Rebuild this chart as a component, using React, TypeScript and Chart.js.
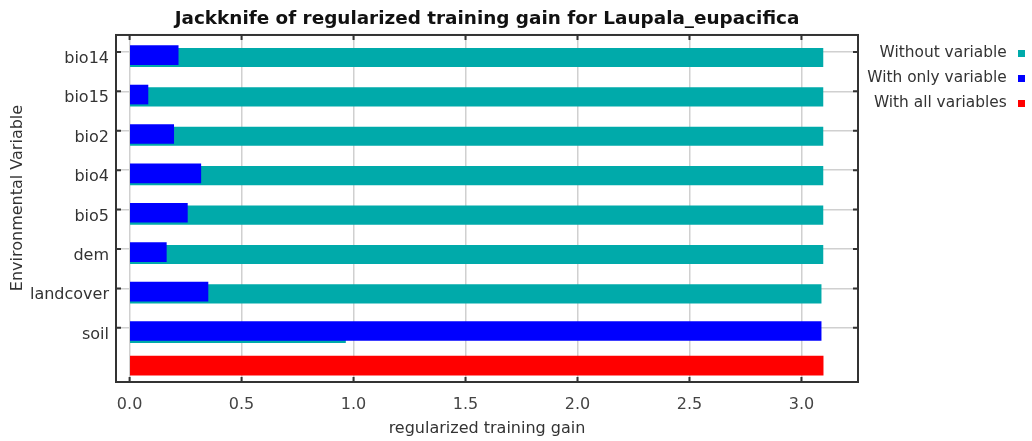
import React, { useEffect, useRef } from 'react';
import { Chart, registerables } from 'chart.js';

Chart.register(...registerables);

const variables = ['bio14', 'bio15', 'bio2', 'bio4', 'bio5', 'dem', 'landcover', 'soil'];
const withoutVariable = [3.096, 3.096, 3.096, 3.096, 3.096, 3.096, 3.088, 0.964];
const withOnlyVariable = [0.217, 0.082, 0.197, 0.318, 0.258, 0.164, 0.35, 3.088];
const withAllVariables = [3.097];
const xTicks = [0, 0.5, 1.0, 1.5, 2.0, 2.5, 3.0];
const seriesNames = ['Without variable', 'With only variable', 'With all variables'];
const seriesColors = ['#00AAAA', '#0000FF', '#FF0000'];

const titleText = 'Jackknife of regularized training gain for Laupala_eupacifica';
const xTitle = 'regularized training gain';
const yTitle = 'Environmental Variable';

const FONT = 'DejaVu Sans';

export default function App() {
  const ref = useRef<HTMLCanvasElement>(null);

  useEffect(() => {
    const Y_MIN = -0.431;
    const Y_MAX = 8.376;
    const TEAL_OFF = 0.14;
    const BLUE_OFF = 0.081;
    const ALL_POS = 7.96;

    const framePlugin = {
      id: 'frame',
      afterDatasetsDraw(chart: any) {
        const { ctx, chartArea } = chart;
        const { left, right, top, bottom } = chartArea;
        const xs = chart.scales.x;
        const ys = chart.scales.y;
        ctx.save();
        ctx.strokeStyle = '#333333';
        ctx.lineWidth = 2;
        ctx.beginPath();
        xs.ticks.forEach((t: any) => {
          const px = xs.getPixelForValue(t.value);
          ctx.moveTo(px, top);
          ctx.lineTo(px, top + 5);
          ctx.moveTo(px, bottom);
          ctx.lineTo(px, bottom - 5);
        });
        ys.ticks.forEach((t: any) => {
          const py = ys.getPixelForValue(t.value);
          ctx.moveTo(left, py);
          ctx.lineTo(left + 5, py);
          ctx.moveTo(right, py);
          ctx.lineTo(right - 5, py);
        });
        ctx.stroke();
        ctx.strokeRect(left, top, right - left, bottom - top);
        ctx.restore();
      },
      afterDraw(chart: any) {
        const { ctx } = chart;
        ctx.save();
        ctx.fillStyle = '#333333';
        ctx.font = `16px "${FONT}"`;
        ctx.textAlign = 'center';
        ctx.textBaseline = 'middle';
        ctx.translate(17.5, 198);
        ctx.rotate(-Math.PI / 2);
        ctx.fillText(yTitle, 0, 0);
        ctx.restore();
        ctx.save();
        ctx.font = `15.4px "${FONT}"`;
        ctx.textAlign = 'right';
        ctx.textBaseline = 'middle';
        seriesNames.forEach((name, i) => {
          const cy = 52.5 + i * 25;
          ctx.fillStyle = '#333333';
          ctx.fillText(name, 1006.7, cy);
          ctx.fillStyle = seriesColors[i];
          ctx.fillRect(1018, cy - 2.5, 7, 7);
        });
        ctx.restore();
      },
    };

    const chart = new Chart(ref.current as HTMLCanvasElement, {
      type: 'bar',
      data: {
        datasets: [
          {
            label: seriesNames[0],
            data: withoutVariable.map((v, i) => ({ x: v, y: i + TEAL_OFF })),
            backgroundColor: seriesColors[0],
            barThickness: 18.5,
            grouped: false,
            order: 3,
          },
          {
            label: seriesNames[1],
            data: withOnlyVariable.map((v, i) => ({ x: v, y: i + BLUE_OFF })),
            backgroundColor: seriesColors[1],
            barThickness: 19,
            grouped: false,
            order: 2,
          },
          {
            label: seriesNames[2],
            data: withAllVariables.map((v) => ({ x: v, y: ALL_POS })),
            backgroundColor: seriesColors[2],
            barThickness: 19.3,
            grouped: false,
            order: 1,
          },
        ],
      } as any,
      options: {
        indexAxis: 'y',
        animation: false,
        responsive: true,
        maintainAspectRatio: false,
        layout: { padding: { left: 0, right: 174, top: 0, bottom: 0 } },
        plugins: {
          legend: { display: false },
          tooltip: { enabled: false },
          title: {
            display: true,
            text: titleText,
            fullSize: false,
            color: '#111111',
            font: { family: FONT, size: 18.4, weight: 'bold' },
            padding: { top: 8, bottom: 4.9 },
          },
        },
        scales: {
          x: {
            type: 'linear',
            min: -0.0607,
            max: 3.2526,
            offset: false,
            afterBuildTicks: (s: any) => {
              s.ticks = xTicks.map((v) => ({ value: v }));
            },
            afterFit: (s: any) => {
              s.height = 59;
            },
            ticks: {
              autoSkip: false,
              maxRotation: 0,
              padding: 13,
              color: '#444444',
              font: { family: FONT, size: 16 },
              callback: (v: any) => Number(v).toFixed(1),
            },
            grid: { color: '#d0d0d0', lineWidth: 1.5, drawTicks: false, offset: false },
            border: { display: false },
            title: {
              display: true,
              text: xTitle,
              color: '#333333',
              font: { family: FONT, size: 16 },
              padding: { top: 0, bottom: 3 },
            },
          },
          y: {
            type: 'linear',
            reverse: true,
            offset: false,
            min: Y_MIN,
            max: Y_MAX,
            afterBuildTicks: (s: any) => {
              s.ticks = variables.map((_, i) => ({ value: i }));
            },
            afterFit: (s: any) => {
              s.width = 116;
            },
            ticks: {
              autoSkip: false,
              padding: 7,
              labelOffset: 6.8,
              color: '#333333',
              font: { family: FONT, size: 16 },
              callback: (v: any) => variables[Math.round(Number(v))] ?? '',
            },
            grid: { color: '#d0d0d0', lineWidth: 1.5, drawTicks: false, offset: false },
            border: { display: false },
          },
        },
      } as any,
      plugins: [framePlugin],
    });

    return () => chart.destroy();
  }, []);

  return (
    <div style={{ position: 'fixed', left: 0, top: 0, width: 1032, height: 441, background: '#ffffff' }}>
      <canvas ref={ref} />
    </div>
  );
}
